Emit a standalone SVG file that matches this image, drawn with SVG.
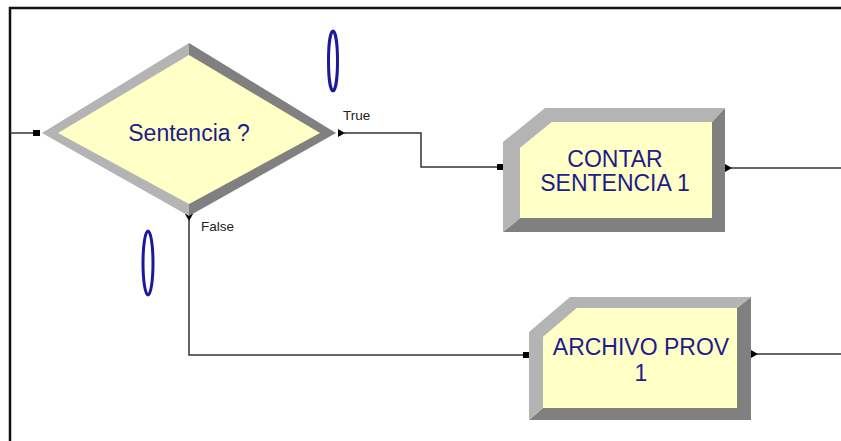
<svg xmlns="http://www.w3.org/2000/svg" width="841" height="441" viewBox="0 0 841 441">
<style>
.lt{fill:#b4b4b4}
.dk{fill:#808080}
.face{fill:#ffffc6}
.lbl{font-family:"Liberation Sans",Arial,sans-serif;font-size:23px;fill:#1c1c8c;text-anchor:middle}
.small{font-family:"Liberation Sans",Arial,sans-serif;font-size:13.5px;fill:#222}
.wire{fill:none;stroke:#333;stroke-width:1.5}
.blk{fill:#000}
.oval{fill:#fff;stroke:#1a1a9a;stroke-width:3}
</style>
<rect x="0" y="0" width="841" height="441" fill="#fff"/>
<g id="frame">
<path d="M10 441 V8 H841" fill="none" stroke="#111" stroke-width="2.5"/>
</g>
<g id="connectors">
<path class="wire" d="M10 133 H36"/>
<rect class="blk" x="33" y="130" width="7" height="6"/>
<path class="wire" d="M344 133 H421 V167 H500"/>
<polygon class="blk" points="338,129 345,133 338,137"/>
<rect class="blk" x="497" y="164" width="7" height="6"/>
<path class="wire" d="M731 168 H841"/>
<polygon class="blk" points="725,164 732,168 725,172"/>
<path class="wire" d="M189 220 V355 H526"/>
<polygon class="blk" points="185,214 193,214 189,221"/>
<rect class="blk" x="523" y="352" width="7" height="6"/>
<path class="wire" d="M757 354 H841"/>
<polygon class="blk" points="751,350 758,354 751,358"/>
</g>
<g id="decide">
<polygon class="lt" points="42,133 189,43 189,216"/>
<polygon class="dk" points="336,133 189,43 189,216"/>
<polygon class="face" points="58,133 189,55 320,133 189,204"/>
<text class="lbl" x="189" y="141" font-size="24">Sentencia ?</text>
<text class="small" x="343" y="120">True</text>
<text class="small" x="201" y="231">False</text>
</g>
<g id="oval1"><ellipse class="oval" cx="333" cy="61" rx="4.5" ry="30"/></g>
<g id="oval2"><ellipse class="oval" cx="148" cy="263" rx="5" ry="32"/></g>
<g id="contar">
<polygon class="dk" points="725,108 725,232 503,232 520,218 712,218 712,122"/>
<polygon class="lt" points="503,142 545,108 725,108 712,122 552,122 520,148 520,218 503,232"/>
<polygon class="face" points="520,148 552,122 712,122 712,218 520,218"/>
<text class="lbl" x="615" y="167">CONTAR</text>
<text class="lbl" x="615" y="191">SENTENCIA 1</text>
</g>
<g id="archivo">
<polygon class="dk" points="751,297 751,420 529,420 543,408 737,408 737,308"/>
<polygon class="lt" points="529,332 570,297 751,297 737,308 577,308 543,337 543,408 529,420"/>
<polygon class="face" points="543,337 577,308 737,308 737,408 543,408"/>
<text class="lbl" x="641" y="355">ARCHIVO PROV</text>
<text class="lbl" x="641" y="381">1</text>
</g>
</svg>
